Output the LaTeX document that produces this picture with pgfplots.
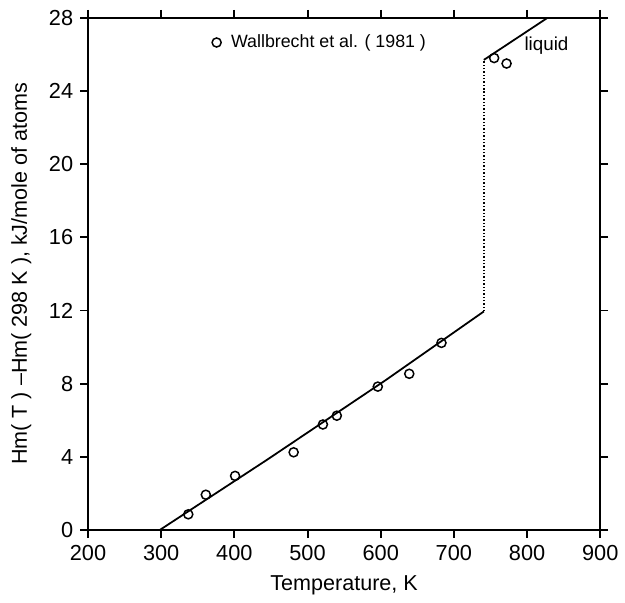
\documentclass[border=0pt]{standalone}
\usepackage{pgfplots}
\pgfplotsset{compat=1.18}
\usepackage{fontspec}
\setmainfont{Liberation Sans}
\begin{document}
\begin{tikzpicture}
\begin{axis}[
  scale only axis,
  width=259pt, height=259pt,
  xmin=200, xmax=900, ymin=0, ymax=28,
  xtick={200,300,...,900},
  ytick={0,4,...,28},
  tick align=outside,
  tick pos=both,
  major tick length=4pt,
  axis line style={line width=1pt},
  every tick/.style={line width=1pt, black},
  /pgf/number format/assume math mode=true,
  ticklabel style={font=\fontsize{11}{13}\selectfont},
  label style={font=\fontsize{10.9}{13}\selectfont},
  xlabel={Temperature, K},
  ylabel={Hm( T ) –Hm( 298 K ), kJ/mole of atoms},
  xlabel style={yshift=-1pt},
  ylabel style={yshift=2pt},
  legend style={draw=none, fill=none, at={(axis cs:369,26.65)}, anchor=west,
    font=\fontsize{9}{11}\selectfont, inner sep=0pt,
    /tikz/every odd column/.append style={column sep=3pt}},
  legend cell align=left,
  clip=false,
]
\addplot[only marks, mark=o, mark size=2.3pt, mark options={line width=0.75pt}] coordinates {
  (337,0.86) (361,1.93) (401,2.96) (481,4.25) (521,5.77) (540,6.25)
  (596,7.84) (639,8.54) (683,10.23) (755,25.8) (772,25.5)
};
\addlegendentry{Wallbrecht et al. ( 1981 )}
\addplot[forget plot, line width=0.9pt] coordinates {
  (298,0) (445,3.85) (607,8.2) (741,11.95)
};
\addplot[forget plot, densely dotted, line width=0.7pt] coordinates {
  (741,11.95) (741,25.7)
};
\addplot[forget plot, line width=0.9pt] coordinates {
  (741,25.7) (828,28)
};
\node[anchor=west, font=\fontsize{9.5}{11}\selectfont] at (axis cs:787,26.5) {liquid};
\coordinate (sw) at (rel axis cs:0,0);
\coordinate (ne) at (rel axis cs:1,1);
\end{axis}
\path ([xshift=-44.5pt,yshift=-36.5pt]sw) rectangle ([xshift=9pt,yshift=9pt]ne);
\end{tikzpicture}
\end{document}
